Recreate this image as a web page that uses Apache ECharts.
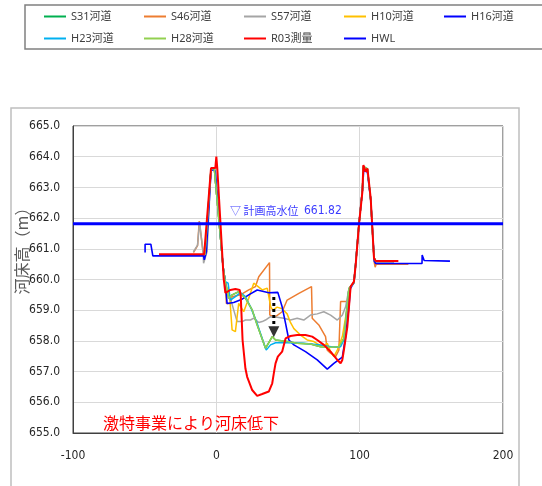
<!DOCTYPE html>
<html>
<head>
<meta charset="utf-8">
<script src="https://cdn.jsdelivr.net/npm/echarts@6/dist/echarts.min.js"></script>
<style>
html,body{margin:0;padding:0;background:#fff;}
#c{width:542px;height:486px;}
</style>
</head>
<body>
<div id="c"></div>
<script>
// ---- data ----
const xTicks = [-100, 0, 100, 200];
const yTicks = [655, 656, 657, 658, 659, 660, 661, 662, 663, 664, 665];
const seriesNames = ['S31河道','S46河道','S57河道','H10河道','H16河道','H23河道','H28河道','R03測量','HWL'];

const S31 = [[-8,660.8],[-7.7,660.85],[-3.7,663.6],[-1.4,663.62],[-0.7,663.57],[4.7,660.42],[6.3,659.9],[8.6,659.39],[11.0,659.5],[15.6,659.6],[20.3,659.39],[25.0,659.01],[28.5,658.52],[34.3,657.76],[39.0,658.14],[41.3,658.03],[49.4,657.98],[56.4,657.92],[65.7,657.9],[72.7,657.81],[79.7,657.79],[85.5,657.81],[89.0,658.08],[91.4,659.2],[92.5,659.7],[96.0,659.9],[97.2,660.5],[99.5,661.8],[101.9,662.9],[102.6,663.68],[105.4,663.6],[107.7,662.6],[110.0,660.72],[111.2,660.6],[116,660.6]];

const S46 = [[-16,660.88],[-13.1,661.1],[-11.9,661.9],[-10.9,661.85],[-9.3,660.9],[-8.4,660.75],[-7.7,660.85],[-3.7,663.6],[-1.4,663.62],[-0.7,663.57],[4.7,660.42],[6.3,659.88],[7.0,659.22],[9.8,659.22],[11.0,659.44],[16.8,659.5],[22.6,659.66],[27.3,659.77],[29.6,660.09],[37.1,660.55],[37.3,658.84],[41.3,658.79],[45.9,658.95],[49.4,659.33],[57.6,659.55],[66.4,659.77],[66.9,658.74],[71.5,658.52],[76.2,658.14],[77.4,657.7],[79.7,657.6],[83.2,657.49],[85.5,657.7],[86.7,659.28],[91.4,659.28],[92.5,659.7],[96.0,659.9],[97.2,660.5],[99.5,661.8],[101.9,662.9],[102.6,663.68],[105.4,663.6],[107.7,662.6],[110.0,660.6],[110.8,660.4],[111.5,660.5],[134,660.5]];

const S57 = [[-16,660.9],[-13.1,661.12],[-11.7,661.88],[-10.7,661.83],[-9.3,660.91],[-8.9,660.53],[-7.7,660.47],[-6.5,660.9],[-3.7,663.6],[-1.4,663.62],[-0.7,663.57],[4.7,660.42],[6.3,659.93],[7.5,659.71],[9.8,659.39],[12.1,659.01],[14.5,658.63],[18.0,658.63],[20.3,658.68],[23.8,658.68],[26.1,658.74],[29.6,658.6],[32.0,658.63],[34.3,658.68],[37.8,658.79],[42.4,658.77],[47.1,658.74],[51.7,658.68],[56.4,658.74],[61.0,658.68],[65.7,658.84],[70.4,658.88],[75.0,658.95],[79.7,658.84],[84.4,658.68],[87.9,658.84],[90.2,659.11],[92.5,659.7],[96.0,659.9],[97.2,660.5],[99.5,661.8],[101.9,662.9],[102.6,663.68],[105.4,663.6],[107.7,662.6],[110.0,660.7],[111.2,660.55],[124,660.55]];

const H10 = [[-8,660.8],[-7.7,660.85],[-3.7,663.6],[-1.4,663.62],[-0.7,663.57],[4.7,660.42],[6.5,659.85],[9.3,659.44],[11.0,658.36],[13.3,658.3],[15.6,659.22],[19.1,658.95],[22.6,659.39],[26.1,659.88],[32.0,659.66],[35.5,659.72],[38.0,659.1],[39.5,659.0],[42.4,659.1],[45.9,659.05],[49.4,658.88],[51.7,658.6],[54.1,658.4],[58.7,658.19],[63.4,658.03],[68.0,657.98],[73.9,657.81],[77.4,657.92],[79.7,657.65],[82.0,657.49],[84.4,657.7],[87.9,658.14],[91.4,659.11],[92.5,659.7],[96.0,659.9],[97.2,660.5],[99.5,661.8],[101.9,662.9],[102.6,663.68],[105.4,663.6],[107.7,662.6],[110.0,660.72],[111.2,660.6],[118,660.6]];

const H16 = [[-49.7,660.88],[-49.7,661.15],[-48.5,661.18],[-45.7,661.15],[-44.3,660.77],[-8.9,660.77],[-8.4,660.64],[-7.0,660.9],[-3.7,663.55],[-1.4,663.58],[-0.7,663.5],[4.7,660.4],[6.3,659.9],[7.5,659.22],[12.1,659.25],[18.0,659.36],[22.6,659.5],[28.5,659.66],[36.6,659.57],[42.9,659.58],[45.9,659.11],[48.3,658.57],[50.6,658.03],[54.1,657.87],[62.2,657.65],[70.4,657.38],[77.4,657.08],[82.0,657.27],[87.9,657.47],[90.2,658.14],[92.5,659.11],[93.5,659.7],[96.0,659.9],[97.2,660.5],[99.5,661.8],[101.9,662.9],[102.8,663.55],[105.4,663.5],[107.7,662.6],[110.2,660.6],[111.2,660.52],[143.5,660.52],[143.6,660.8],[145,660.62],[163,660.6]];

const H23 = [[-8,660.8],[-7.7,660.85],[-3.7,663.6],[-1.4,663.62],[-0.7,663.57],[4.7,660.42],[6.3,659.93],[8.2,659.88],[9.8,659.33],[13.3,659.44],[16.8,659.57],[20.3,659.44],[23.8,659.11],[28.5,658.57],[32.0,658.08],[34.8,657.7],[37.8,657.87],[41.3,657.94],[49.4,657.94],[61.0,657.92],[72.7,657.87],[82.0,657.79],[86.7,657.81],[89.0,658.03],[91.4,659.2],[92.5,659.7],[96.0,659.9],[97.2,660.5],[99.5,661.8],[101.9,662.9],[102.6,663.68],[105.4,663.6],[107.7,662.6],[110.0,660.72],[111.2,660.6],[118,660.6]];

const H28 = [[-8,660.8],[-7.7,660.85],[-3.7,663.6],[-1.4,663.62],[-0.7,663.57],[4.7,660.42],[6.3,659.9],[8.6,659.39],[11.0,659.5],[15.6,659.6],[20.3,659.39],[25.0,659.01],[28.5,658.52],[34.3,657.76],[39.0,658.14],[41.3,658.03],[49.4,657.98],[56.4,657.92],[65.7,657.9],[72.7,657.81],[79.7,657.79],[85.5,657.81],[89.0,658.08],[91.4,659.2],[92.5,659.7],[96.0,659.9],[97.2,660.5],[99.5,661.8],[101.9,662.9],[102.6,663.68],[105.4,663.6],[107.7,662.6],[110.0,660.72],[111.2,660.6],[118,660.6]];

const R03 = [[-40,660.82],[-8.5,660.82],[-3.7,663.63],[-0.7,663.63],[0,664.0],[0.7,663.6],[5.1,660.04],[6.3,659.56],[9.8,659.66],[13.3,659.69],[16.3,659.66],[17.0,659.5],[18.3,658.03],[20.3,657.1],[21.5,656.83],[25.0,656.4],[28.5,656.21],[32.0,656.27],[36.6,656.35],[39.0,656.62],[40.1,656.94],[41.3,657.27],[42.9,657.49],[45.9,657.65],[48.3,658.08],[51.7,658.16],[56.4,658.19],[62.2,658.19],[66.9,658.14],[70.4,658.03],[75.0,657.87],[79.7,657.65],[84.4,657.38],[86.7,657.27],[87.9,657.38],[89.0,657.7],[91.4,658.46],[93.7,659.77],[96.0,659.93],[97.2,660.47],[99.5,661.78],[101.9,662.86],[102.6,663.73],[104.2,663.51],[105.4,663.62],[107.7,662.64],[110.0,660.69],[111.2,660.6],[127,660.6]];

const HWL = [[-100,661.82],[200,661.82]];
const hwlValue = 661.82;

const arrowLine = [[40.1,659.43],[40.1,658.47]];
const arrowHead = [[40.1,658.3]];

const colors = {
  'S31河道':'#00b050','S46河道':'#ed7d31','S57河道':'#a5a5a5','H10河道':'#ffc000',
  'H16河道':'#0000ff','H23河道':'#00b0f0','H28河道':'#92d050','R03測量':'#ff0000','HWL':'#0000ff'
};
const dataMap = {'S31河道':S31,'S46河道':S46,'S57河道':S57,'H10河道':H10,'H16河道':H16,'H23河道':H23,'H28河道':H28,'R03測量':R03,'HWL':HWL};
const widths = {'R03測量':2,'HWL':3,'H16河道':1.6};

const chart = echarts.init(document.getElementById('c'), null, {renderer:'canvas'});
const latin = '"Liberation Sans Narrow", "DejaVu Sans Condensed", sans-serif';
const series = seriesNames.map(n => ({
  name:n, type:'line', data:dataMap[n], symbol:'none', showSymbol:false,
  lineStyle:{color:colors[n], width:widths[n]||1.5}, itemStyle:{color:colors[n]},
  z: n==='HWL' ? 5 : 3, silent:true
}));
series.push({type:'line', name:'arrow', data:arrowLine, symbol:'none',
  lineStyle:{color:'#000', width:3, type:[3,3]}, z:6, silent:true});
series.push({type:'scatter', name:'arrowhead', data:arrowHead, symbol:'triangle',
  symbolRotate:180, symbolSize:[11,11], itemStyle:{color:'#000'}, z:6, silent:true});

const legends = seriesNames.map((n, i) => ({
  left: 38 + 100 * (i % 5),
  top: i < 5 ? 6 : 28,
  itemWidth: 22, itemHeight: 12,
  itemStyle: {opacity: 0},
  textStyle: {fontSize: 11, color: '#404040', fontFamily: '"Noto Sans", "Noto Sans CJK JP", sans-serif'},
  selectedMode: false,
  data: [n]
}));

chart.setOption({
  animation:false,
  backgroundColor:'#fff',
  legend: legends,
  grid:{left:73, right:39, top:126, bottom:53, show:true, borderColor:'#404040', borderWidth:1, containLabel:false},
  xAxis:{type:'value', min:xTicks[0], max:xTicks[xTicks.length-1], interval:100,
    axisLine:{show:true, onZero:false, lineStyle:{color:'#404040'}}, axisTick:{show:false},
    splitLine:{show:true, lineStyle:{color:'#d9d9d9', width:1}},
    axisLabel:{margin:17, fontSize:12, color:'#262626', fontFamily:latin}},
  yAxis:{type:'value', min:yTicks[0], max:yTicks[yTicks.length-1], interval:1,
    axisLine:{show:true, onZero:false, lineStyle:{color:'#404040'}}, axisTick:{show:false},
    splitLine:{show:true, lineStyle:{color:'#d9d9d9', width:1}},
    axisLabel:{margin:13, fontSize:12, color:'#262626', fontFamily:latin, formatter:v=>v.toFixed(1)}},
  graphic:[
    {type:'rect', shape:{x:11, y:108, width:508, height:420}, style:{fill:'none', stroke:'#bfbfbf', lineWidth:1.5}, z:-10, silent:true},
    {type:'rect', shape:{x:25, y:5, width:560, height:44}, style:{fill:'none', stroke:'#808080', lineWidth:1.5}, z:-10, silent:true},
    {type:'text', x:22, y:247, rotation:Math.PI/2, style:{text:'河床高（m）', fill:'#595959', font:'16px "Noto Sans CJK JP", sans-serif', textAlign:'center', textVerticalAlign:'middle'}, silent:true},
    {type:'text', x:230, y:211, style:{text:'▽ 計画高水位', fill:'#3c3cff', font:'11px "Noto Sans CJK JP", sans-serif', textAlign:'left', textVerticalAlign:'middle'}, z:10, silent:true},
    {type:'text', x:304, y:211, style:{text:hwlValue.toFixed(2), fill:'#3c3cff', font:'12px '+latin, textAlign:'left', textVerticalAlign:'middle'}, z:10, silent:true},
    {type:'text', x:103, y:423, style:{text:'激特事業により河床低下', fill:'#ff0000', font:'16px "Noto Sans CJK JP", sans-serif', textAlign:'left', textVerticalAlign:'middle'}, z:10, silent:true}
  ],
  series:series
});
</script>
</body>
</html>
